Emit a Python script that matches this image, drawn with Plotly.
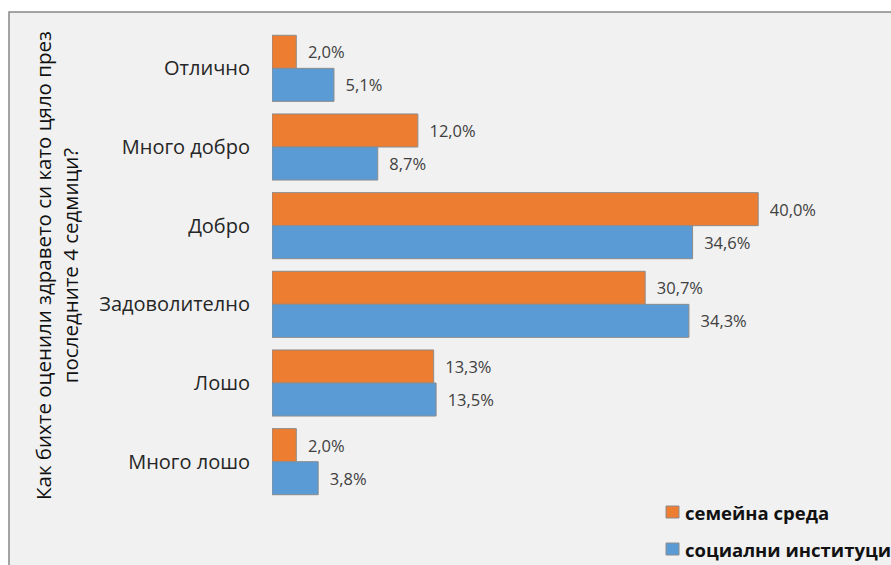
import plotly.graph_objects as go

# Survey answers (top to bottom) and shares per group, in percent
categories = ["Отлично", "Много добро", "Добро", "Задоволително", "Лошо", "Много лошо"]
family_env = [2.0, 12.0, 40.0, 30.7, 13.3, 2.0]
social_inst = [5.1, 8.7, 34.6, 34.3, 13.5, 3.8]
series_names = ["семейна среда", "социални институции"]
series_colors = ["#ED7D31", "#5B9BD5"]
axis_title = "Как бихте оценили здравето си като цяло през<br>последните 4 седмици?"

W, H = 891, 565
L, R, T, B = 272, 72, 29, 64
FONT = "Open Sans"
TXT = "#404040"


def px_x(p):
    return (p - L) / (W - L - R)


def px_y(p):
    return 1 - (p - T) / (H - T - B)


def fmt(v):
    # decimal comma, with a little padding before the label
    return "\u00a0\u00a0" + f"{v:.1f}".replace(".", ",") + "%"


fig = go.Figure()
for name, vals, col in zip(series_names, [family_env, social_inst], series_colors):
    fig.add_trace(go.Bar(
        y=categories, x=vals, orientation="h", name=name,
        marker=dict(color=col, line=dict(color="#8c8c8c", width=1)),
        text=[fmt(v) for v in vals], textposition="outside",
        textfont=dict(family=FONT, size=16.5, color=TXT),
        cliponaxis=False, showlegend=False,
    ))

shapes = [
    # chart area background with its frame
    dict(type="rect", xref="paper", yref="paper", layer="below",
         x0=px_x(9), y0=px_y(H + 5), x1=px_x(W + 5), y1=px_y(12),
         fillcolor="#f1f1f1", line=dict(color="#888888", width=1.5)),
]
annotations = [
    dict(text=axis_title, textangle=-90, xref="paper", yref="paper",
         x=px_x(56), y=px_y(266), xanchor="center", yanchor="middle",
         showarrow=False, font=dict(family=FONT, size=20.5, color="#111111")),
]

# legend drawn as swatches plus labels at the lower right
for i, (name, col) in enumerate(zip(series_names, series_colors)):
    cy = 512 + 37 * i
    shapes.append(dict(type="rect", xref="paper", yref="paper",
                       x0=px_x(666), x1=px_x(679), y0=px_y(cy + 6), y1=px_y(cy - 6),
                       fillcolor=col, line=dict(color="#8c8c8c", width=1)))
    annotations.append(dict(text=f"<b>{name}</b>", xref="paper", yref="paper",
                            x=px_x(683), y=px_y(cy), xanchor="left", yanchor="middle",
                            showarrow=False, font=dict(family=FONT, size=18.5, color="#111111")))

fig.update_layout(
    width=W, height=H, margin=dict(l=L, r=R, t=T, b=B),
    paper_bgcolor="white", plot_bgcolor="rgba(0,0,0,0)",
    barmode="group", bargap=0.16, bargroupgap=0,
    shapes=shapes, annotations=annotations,
    xaxis=dict(range=[0, 45], visible=False),
    yaxis=dict(autorange="reversed", showgrid=False, zeroline=False, showline=False,
               ticks="outside", ticklen=17, tickcolor="rgba(0,0,0,0)",
               tickfont=dict(family=FONT, size=20, color="#262626")),
)

fig.write_html("out.html")
